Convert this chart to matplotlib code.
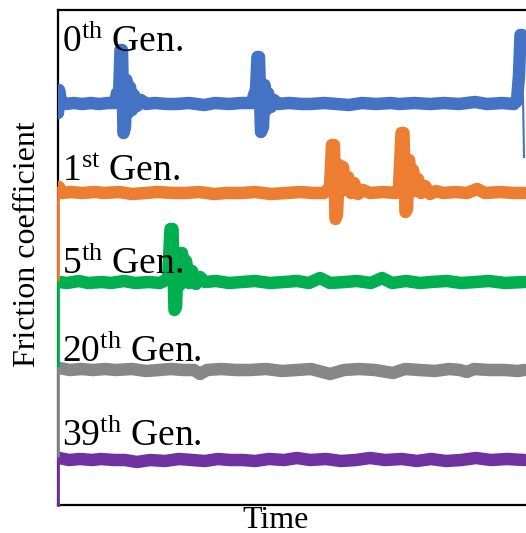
import matplotlib
matplotlib.use("Agg")
import matplotlib.pyplot as plt

plt.rcParams['font.family'] = ['Liberation Serif', 'DejaVu Serif']
plt.rcParams['mathtext.fontset'] = 'custom'
plt.rcParams['mathtext.rm'] = 'Liberation Serif'
plt.rcParams['mathtext.it'] = 'Liberation Serif:italic'

# ---- data (arbitrary time / friction units, traces offset vertically) ----
labels = ["0$^{\\mathrm{th}}$ Gen.", "1$^{\\mathrm{st}}$ Gen.", "5$^{\\mathrm{th}}$ Gen.",
          "20$^{\\mathrm{th}}$ Gen.", "39$^{\\mathrm{th}}$ Gen."]
colors = ["#4472C4", "#ED7D31", "#00B050", "#878787", "#7030A0"]

blue_t = [0, 1, 3, 7, 16, 24, 33, 41, 50, 57, 59, 61, 62.5, 64, 65.5, 67, 68.5, 70, 72, 74, 76, 79, 83, 88,
          97, 109, 118, 131, 146, 157, 171, 183, 194, 196, 198, 199.5, 201, 203, 205, 206.5, 208, 210, 213, 216, 220,
          231, 244, 252, 266, 279, 291, 304, 318, 333, 341, 356, 372, 386, 401, 417, 429, 444, 456, 459, 461, 462.5, 464]
blue_f = [392, 415, 404, 401, 402, 401, 402, 401, 402, 402, 412, 408, 455, 455, 372, 378, 425, 392, 418, 395, 410, 399, 405, 401,
          402, 401, 401, 402, 400, 402, 401, 402, 402, 410, 415, 448, 448, 373, 378, 420, 395, 412, 398, 405, 401,
          402, 401, 401, 402, 401, 400, 402, 401, 402, 401, 402, 401, 402, 401, 403, 401, 402, 401, 404, 430, 470, 470]

orange_t = [1, 4, 13, 24, 37, 46, 61, 74, 88, 99, 116, 127, 141, 156, 168, 184, 197, 213, 228, 243, 255, 266,
            272, 274, 276, 277.5, 279, 281, 283, 285, 287, 290, 293, 296, 300, 305, 312, 325, 338,
            341, 343.5, 345.5, 347.5, 349, 351, 353, 355, 357, 360, 363, 367, 372, 378, 385,
            398, 409, 419, 427, 442, 456, 466]
orange_f = [318, 312, 313, 312, 313, 312, 313, 311, 312, 313, 312, 312, 313, 311, 312, 312, 313, 311, 312, 313, 312, 312,
            318, 360, 360, 286, 290, 340, 318, 338, 315, 328, 312, 322, 311, 315, 312, 313, 312,
            318, 372, 372, 293, 296, 345, 318, 335, 314, 326, 312, 319, 311, 314, 312,
            313, 312, 316, 312, 313, 312, 312]

green_t = [1, 9, 21, 30, 44, 53, 66, 77, 91, 102, 108, 110, 112.5, 114.5, 116.5, 118, 120, 122, 124, 126, 128,
           131, 134, 138, 142, 147, 158, 171, 184, 197, 212, 226, 239, 251, 262, 272, 287, 299, 313, 324, 334,
           348, 362, 373, 389, 403, 418, 431, 447, 466]
green_f = [223, 222, 224, 222, 223, 222, 224, 222, 223, 222, 225, 227, 276, 276, 195, 198, 251, 220, 252, 225, 244,
           222, 234, 221, 228, 223, 224, 222, 223, 224, 222, 223, 224, 222, 227, 222, 223, 224, 222, 227, 222,
           224, 222, 223, 224, 222, 223, 224, 222, 223]

gray_t = [1, 12, 23, 35, 47, 58, 74, 88, 101, 113, 125, 136, 142, 149, 163, 178, 192, 208, 224, 239, 253,
          272, 286, 301, 317, 335, 347, 361, 377, 391, 402, 409, 416, 431, 447, 460, 466]
gray_f = [137, 135, 136, 135, 136, 135, 136, 134, 135, 136, 135, 135, 131, 135, 136, 135, 135, 136, 134, 135, 136,
          131, 135, 136, 135, 132, 136, 135, 134, 136, 135, 133, 136, 135, 135, 134, 135]

purple_t = [1, 11, 22, 34, 43, 56, 67, 79, 92, 107, 121, 134, 147, 160, 172, 185, 197, 211, 226, 239, 252, 268,
            283, 298, 312, 327, 344, 359, 373, 388, 403, 418, 433, 449, 466]
purple_f = [47, 45, 46, 45, 46, 45, 45, 43, 45, 44, 46, 45, 44, 46, 45, 45, 44, 46, 45, 47, 45, 46,
            44, 45, 47, 45, 46, 44, 46, 44, 45, 47, 45, 46, 45]

# initial value of each trace at t = 0 (fast rise from start level)
start_f = [None, 223, 135, 45, 0]
# final drop of the 0th trace at the right edge
blue_end_t = [464, 466]
blue_end_f = [470, 348]

label_t = [4, 4, 4, 4, 4]
label_f = [453, 325, 231, 143, 59]

series = [(blue_t, blue_f), (orange_t, orange_f), (green_t, green_f), (gray_t, gray_f), (purple_t, purple_f)]

# ---- figure ----
W, H = 526, 533
fig = plt.figure(figsize=(W / 100, H / 100), dpi=100)
ax = fig.add_axes([58 / W, 28 / H, 468 / W, 495 / H])
ax.set_xlim(0, 468)
ax.set_ylim(0, 495)

for i, ((t, f), c) in enumerate(zip(series, colors)):
    ax.plot(t, f, color=c, lw=9, solid_capstyle='round', solid_joinstyle='round', zorder=3)
    if start_f[i] is not None:
        ax.plot([0, 0, t[0]], [start_f[i], f[0], f[0]], color=c, lw=2.0, zorder=4, clip_on=False)
    ax.text(label_t[i], label_f[i], labels[i], fontsize=27, va='baseline', ha='left', zorder=5)

ax.plot(blue_end_t, blue_end_f, color=colors[0], lw=1.5, zorder=3)

ax.set_xticks([])
ax.set_yticks([])
for s in ['left', 'bottom', 'top']:
    ax.spines[s].set_linewidth(1.6)
ax.spines['right'].set_visible(False)

fig.text(276 / W, 1 - 520 / H, "Time", fontsize=23, ha='center', va='center')
fig.text(28 / W, 1 - 244 / H, "Friction coefficient", fontsize=23, ha='center', va='center', rotation=90)

fig.savefig("out.png", dpi=100)
